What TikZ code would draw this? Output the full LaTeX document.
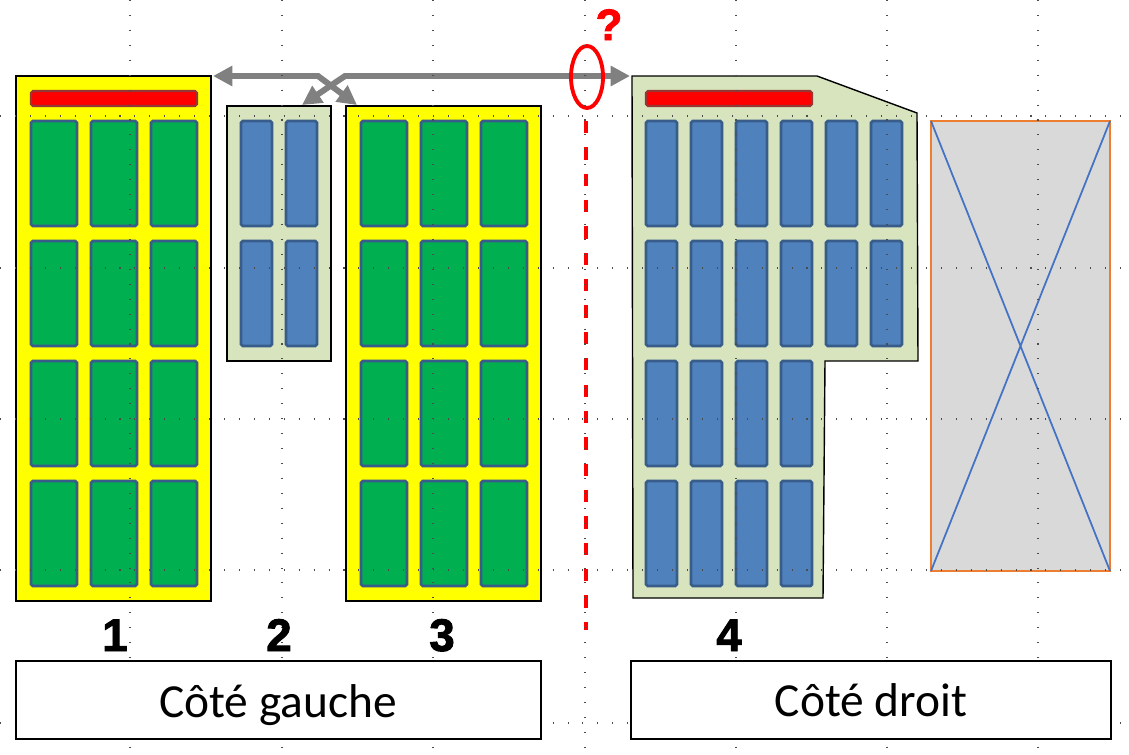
\documentclass[tikz,border=0pt]{standalone}
\usepackage{fontspec}
\setmainfont{Carlito}
\newfontfamily\digitfont{Liberation Sans}[BoldFeatures={FakeBold=2}]
\usetikzlibrary{arrows.meta}

\definecolor{blockyellow}{HTML}{FFFF00}
\definecolor{blockpale}{HTML}{D7E4BD}
\definecolor{cellgreen}{HTML}{00B050}
\definecolor{cellblue}{HTML}{4F81BD}
\definecolor{celledge}{HTML}{385D8A}
\definecolor{baredge}{HTML}{953735}
\definecolor{arrowgray}{HTML}{808080}
\definecolor{voidgray}{HTML}{D9D9D9}
\definecolor{voidedge}{HTML}{ED7D31}
\definecolor{voidcross}{HTML}{4472C4}

\tikzset{
  block/.style={draw=black, line width=0.8pt},
  greencell/.style={fill=cellgreen, draw=celledge, line width=1.6pt, rounded corners=1pt},
  bluecell/.style={fill=cellblue, draw=celledge, line width=1.6pt, rounded corners=1pt},
  redbar/.style={fill=red, draw=baredge, line width=1.2pt, rounded corners=1pt},
  move/.style={draw=arrowgray, line width=3.4pt,
    {Triangle[length=11pt,width=11pt]}-{Triangle[length=11pt,width=11pt]}},
  num/.style={font=\digitfont\bfseries\fontsize{26}{26}\selectfont, anchor=base},
  sidebox/.style={draw=black, line width=1.2pt},
  sidetext/.style={font=\fontsize{27}{27}\selectfont, anchor=base},
  gridline/.style={black!70, line width=0.6pt, dash pattern=on 0.6pt off 7.9pt}
}

\begin{document}
\begin{tikzpicture}[x={(0.02cm,0)}, y={(0,-0.02cm)}]
        \useasboundingbox (0,0) rectangle (1129,754);

        % Block 1
        \draw[block, fill=blockyellow] (16,76) rectangle (211,601);
        \draw[redbar] (31,91) rectangle (197,106);
        \foreach \cx in {31,91,151}
            \foreach \cy in {121,241,361,481}
                \draw[greencell] (\cx,\cy) rectangle ++(46,105);
        \coordinate (b1) at (213,76);

        % Block 2
        \draw[block, fill=blockpale] (227,106) rectangle (331,361);
        \foreach \cx in {241,286}
            \foreach \cy in {121,241}
                \draw[bluecell] (\cx,\cy) rectangle ++(31,105);
        \coordinate (b2) at (302,105);

        % Block 3
        \draw[block, fill=blockyellow] (346,106) rectangle (541,601);
        \foreach \cx in {361,421,481}
            \foreach \cy in {121,241,361,481}
                \draw[greencell] (\cx,\cy) rectangle ++(46,105);
        \coordinate (b3) at (357,105);

        % Block 4
        \draw[block, fill=blockpale] (632,76) -- (817,76) -- (917,113) -- (918,361)
            -- (825,361) -- (823,598) -- (633,598) -- cycle;
        \draw[redbar] (646,91) rectangle (812,106);
        \foreach \cx in {646,691,736,781,826,871}
            \foreach \cy in {121,241}
                \draw[bluecell] (\cx,\cy) rectangle ++(31,105);
        \foreach \cx in {646,691,736,781}
            \foreach \cy in {361,481}
                \draw[bluecell] (\cx,\cy) rectangle ++(31,105);
        \coordinate (b4) at (630,76);

        % Empty slot
        \draw[voidedge, fill=voidgray, line width=1.2pt] (931,121) rectangle (1110,571);
        \draw[voidcross, line width=1pt] (931,121) -- (1110,571) (1110,121) -- (931,571);

        % Moves
        \coordinate (bendA) at (318,76);
        \coordinate (bendB) at (345,76);
        \draw[move] (b1) -- (bendA) -- (b3);
        \draw[move] (b2) -- (bendB) -- (b4);

        % Cut line
        \draw[red, line width=2pt, dash pattern=on 7pt off 8pt] (586,121) -- (586,630);
        \draw[red, line width=2.2pt] (587,77) ellipse [x radius=16, y radius=31];
        \node[text=red, font=\digitfont\bfseries\fontsize{25}{25}\selectfont, anchor=base]
            (qmark) at (609,40) {?};

        % Grid
        \foreach \gx in {130,282,433,585,736,887,1038}
            \draw[gridline] (\gx,0) -- (\gx,754);
        \foreach \gy in {116,268,419,570,723}
            \draw[gridline] (0,\gy) -- (1129,\gy);

        % Numbers
        \node[num] (n1) at (115,651) {1};
        \node[num] (n2) at (279,651) {2};
        \node[num] (n3) at (442,651) {3};
        \node[num] (n4) at (729,651) {4};

        % Sides
        \draw[sidebox, fill=white] (16,661) rectangle (541,739);
        \node[sidetext] (left) at (278,717) {Côté gauche};
        \draw[sidebox, fill=white] (631,661) rectangle (1111,739);
        \node[sidetext] (right) at (871,716) {Côté droit};
    \end{tikzpicture}
\end{document}
